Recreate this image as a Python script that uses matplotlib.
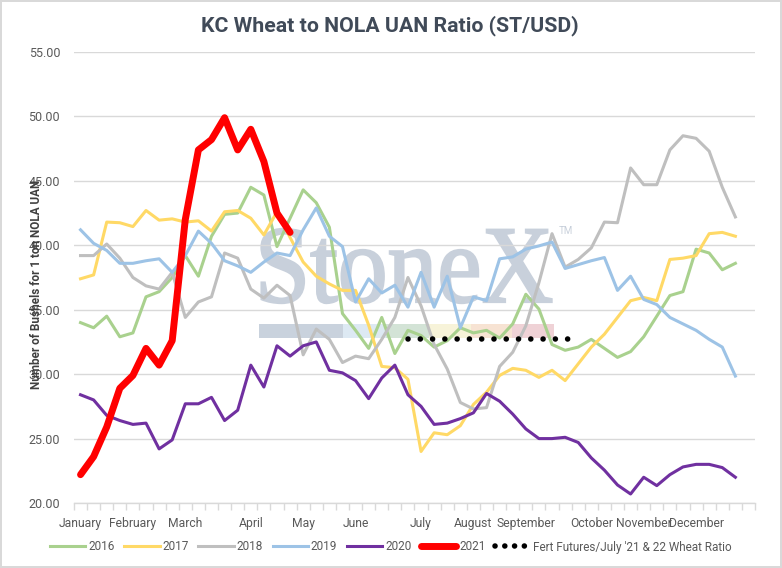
import matplotlib.pyplot as plt
import numpy as np
from matplotlib.textpath import TextPath
from matplotlib.patches import PathPatch, Rectangle
from matplotlib.font_manager import FontProperties
from matplotlib.transforms import Affine2D
from matplotlib.lines import Line2D

# weekly ratio values, one point per week (52 week slots on the axis)
n_weeks = 52
month_names = ["January", "February", "March", "April", "May", "June",
               "July", "August", "September", "October", "November", "December"]
month_week = [0, 4, 8, 13, 17, 21, 26, 30, 34, 39, 43, 47]

y2016 = [34.0, 33.6, 34.5, 32.9, 33.2, 36.0, 36.4, 37.5, 39.2, 37.6, 40.7, 42.4,
         42.5, 44.5, 43.9, 39.9, 42.1, 44.3, 43.3, 41.4, 34.7, 33.4, 32.0,
         34.4, 31.6, 33.4, 33.0, 32.1, 32.6, 33.6, 33.2, 33.4, 32.8, 33.9, 36.2, 35.05, 32.3, 31.85,
         32.1, 32.7, 32.0, 31.3, 31.75, 32.9, 34.5, 36.1, 36.4, 39.7, 39.4, 38.1, 38.6]
y2017 = [37.4, 37.7, 41.8, 41.75, 41.45, 42.7, 41.95, 42.05, 41.8, 41.9, 41.1, 42.6,
         42.7, 42.1, 40.8, 42.6, 40.6, 38.7, 37.6, 37.0, 36.5, 36.5, 33.8,
         30.6, 30.5, 29.6, 24.0, 25.45, 25.3, 26.0, 27.65, 28.6, 29.9, 30.45, 30.3, 29.75, 30.3, 29.5,
         30.8, 32.1, 33.1, 34.4, 35.7, 35.95, 35.7, 38.9, 39.0, 39.2, 40.9, 41.0, 40.7]
y2018 = [39.2, 39.2, 40.1, 39.0, 37.5, 36.85, 36.6, 37.9, 34.4, 35.6, 36.0, 39.4,
         39.0, 36.6, 35.9, 36.9, 36.1, 31.5, 33.5, 32.7, 30.9, 31.4, 31.2,
         32.7, 34.4, 37.5, 35.3, 32.3, 30.4, 27.8, 27.3, 27.4, 30.6, 31.7, 33.75, 37.1, 40.9, 38.3,
         38.9, 39.8, 41.8, 41.75, 46.0, 44.7, 44.7, 47.4, 48.5, 48.3, 47.3, 44.5, 42.2]
y2019 = [41.2, 40.15, 39.6, 38.6, 38.6, 38.8, 38.95, 37.9, 39.2, 41.1, 40.15, 38.8,
         38.4, 37.9, 38.7, 39.4, 39.2, 41.2, 42.9, 40.7, 39.9, 35.6, 37.4,
         36.3, 36.9, 35.2, 37.9, 35.2, 37.6, 33.6, 36.0, 35.7, 38.95, 39.1, 39.7, 39.95, 40.25, 38.2,
         38.5, 38.8, 39.05, 36.5, 37.6, 35.8, 35.4, 34.4, 33.9, 33.4, 32.7, 32.1, 29.85]
y2020 = [28.4, 28.0, 26.8, 26.4, 26.1, 26.2, 24.2, 24.9, 27.7, 27.7, 28.2, 26.4,
         27.2, 30.7, 29.0, 32.2, 31.4, 32.2, 32.5, 30.3, 30.1, 29.5, 28.1,
         29.7, 30.7, 28.4, 27.5, 26.1, 26.2, 26.55, 27.0, 28.5, 27.9, 26.9, 25.75, 25.0, 25.0, 25.1,
         24.7, 23.5, 22.55, 21.4, 20.7, 22.0, 21.35, 22.2, 22.8, 23.0, 23.0, 22.75, 22.0]
y2021 = [22.2, 23.6, 25.9, 28.9, 29.9, 32.0, 30.7, 32.6, 42.0, 47.4, 48.2, 49.9,
         47.4, 49.0, 46.5, 42.5, 41.0]
fert_start = 25
fert = [32.75] * 14

series = [("2016", y2016, "#a9d18e"), ("2017", y2017, "#ffd966"),
          ("2018", y2018, "#bfbfbf"), ("2019", y2019, "#9dc3e6"),
          ("2020", y2020, "#7030a0")]

plt.rcParams["font.family"] = ["Roboto", "DejaVu Sans"]

fig, ax = plt.subplots(figsize=(7.82, 5.68), dpi=100)
fig.subplots_adjust(left=0.0946, right=0.9655, top=0.9085, bottom=0.1144)
fig.patch.set_edgecolor("#d9d9d9")
fig.patch.set_linewidth(1.5)

# watermark
wm_col = "#c8d0db"
tp = TextPath((0, 0), "StoneX", size=1, prop=FontProperties(family="Liberation Serif"))
ext = tp.get_extents()
wm_left, wm_right, wm_base, wm_cap = 0.2753, 0.7013, 0.4457, 0.162
sx = (wm_right - wm_left) / ext.width
sy = wm_cap / 0.662
wm_tr = Affine2D().translate(-ext.x0, 0).scale(sx, sy).translate(wm_left, wm_base) + ax.transAxes
ax.add_patch(PathPatch(tp, transform=wm_tr, facecolor=wm_col, edgecolor=wm_col, lw=1.6, zorder=0.3))
ax.text(0.7116, 0.614, "TM", transform=ax.transAxes, fontsize=7, color=wm_col,
        va="top", ha="left", zorder=0.3)
bar_px = [260, 344, 387, 430, 472, 513, 555]
bar_cols = ["#c9d2dd", "#dde9f3", "#d3e3d6", "#f7f3d9", "#f7e3d3", "#efd2d6"]
for i, c in enumerate(bar_cols):
    x0 = (bar_px[i] - 74) / 683
    w = (bar_px[i + 1] - bar_px[i]) / 683
    ax.add_patch(Rectangle((x0, 0.366), w, 0.031, transform=ax.transAxes,
                           facecolor=c, edgecolor="none", zorder=0.3))

handles = []
for name, vals, col in series:
    ln, = ax.plot(np.arange(len(vals)), vals, color=col, lw=2.2,
                  solid_joinstyle="round", label=name, zorder=2)
    handles.append(ln)
ln, = ax.plot(np.arange(len(y2021)), y2021, color="#ff0000", lw=5,
              solid_joinstyle="round", solid_capstyle="round", label="2021", zorder=3)
handles.append(ln)
fert_label = "Fert Futures/July '21 & 22 Wheat Ratio"
ax.plot(np.arange(fert_start, fert_start + len(fert)), fert, color="black", lw=4,
        linestyle=(0, (0.01, 2.2)), dash_capstyle="round", label=fert_label, zorder=3)
# legend sample with tighter dot spacing so four dots show, as in the reference
handles.append(Line2D([], [], color="black", lw=4, linestyle=(0, (0.01, 1.75)),
                      dash_capstyle="round", label=fert_label))

ax.set_xlim(-0.5, n_weeks - 0.5)
ax.set_ylim(20, 55)
ax.set_yticks(np.arange(20, 56, 5))
ax.set_yticklabels([f"{v:.2f}" for v in np.arange(20, 56, 5)])
ax.set_xticks(month_week)
ax.set_xticklabels(month_names)
ax.set_xticks(np.arange(-0.5, n_weeks, 1), minor=True)
ax.tick_params(axis="x", which="major", length=0, pad=10, labelsize=8.7, labelcolor="#595959")
ax.tick_params(axis="x", which="minor", length=5, color="#d9d9d9", width=1)
ax.tick_params(axis="y", length=0, pad=10, labelsize=9, labelcolor="#595959")
ax.yaxis.grid(True, color="#d9d9d9", lw=1)
ax.set_axisbelow(True)
for s in ["left", "right", "top"]:
    ax.spines[s].set_visible(False)
ax.spines["bottom"].set_color("#d9d9d9")
ax.spines["bottom"].set_linewidth(1)

fig.text(0.4987, 1 - 26 / 568, "KC Wheat to NOLA UAN Ratio (ST/USD)", ha="center", va="center",
         fontsize=15.3, fontweight="bold", color="#404a58")
fig.text(37 / 782, 1 - 284 / 568, "Number of Bushels for 1 ton NOLA UAN", rotation=90,
         ha="center", va="center", fontsize=8.5, fontweight="bold", color="#404040")

fig.legend(handles=handles, loc="center", bbox_to_anchor=(0.5, 1 - 547 / 568), ncol=7,
           frameon=False, fontsize=8.5, handlelength=3.0, handletextpad=0.25,
           columnspacing=0.8, labelcolor="#595959")

fig.savefig("out.png", dpi=100)
